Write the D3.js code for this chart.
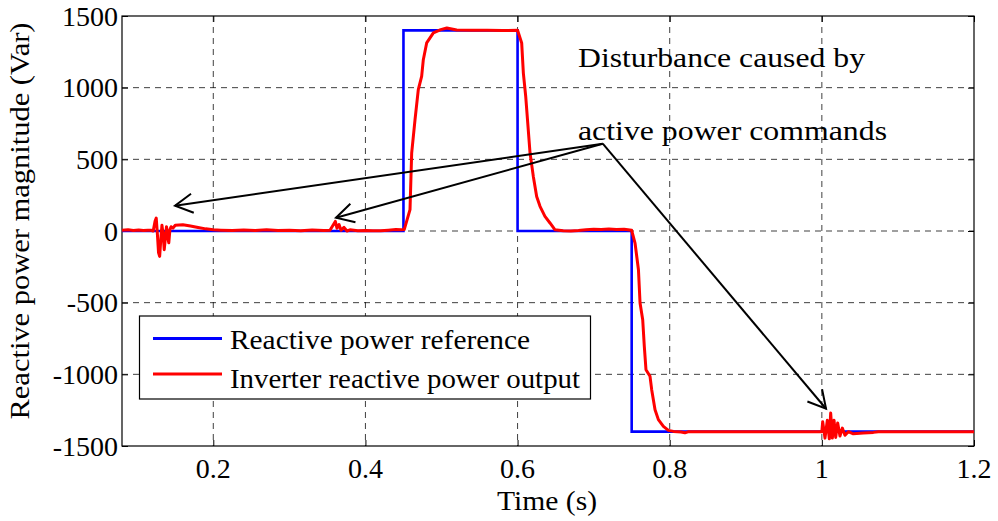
<!DOCTYPE html>
<html><head><meta charset="utf-8">
<script src="https://cdn.jsdelivr.net/npm/d3@7"></script>
</head><body style="margin:0;background:#fff">
<svg id="c" width="998" height="521" style="display:block;font-family:'Liberation Serif'"></svg>
<script>
// ---- data ----
const xTicks = [0.2, 0.4, 0.6, 0.8, 1, 1.2];
const yTicks = [-1500, -1000, -500, 0, 500, 1000, 1500];
const refTime  = [0.08, 0.45, 0.45, 0.6, 0.6, 0.75, 0.75, 1.2];
const refValue = [0, 0, 1400, 1400, 0, 0, -1400, -1400];
const outTime = [
  0.08,0.088,0.095,0.102,0.108,0.114,0.118,0.121,0.1235,0.125,0.1265,0.128,0.1295,0.131,0.1325,0.134,0.1355,0.137,0.1385,0.140,0.1415,0.143,0.1445,0.147,0.150,0.155,0.160,0.170,0.180,0.190,0.200,
  0.21,0.225,0.24,0.255,0.27,0.285,0.30,0.315,0.33,0.345,0.3534,0.3574,0.3604,0.3626,0.3653,0.3679,0.3718,0.3758,0.3797,0.39,0.40,0.41,0.42,0.43,0.44,0.447,0.451,
  0.4586,0.4608,0.4652,0.4695,0.4739,0.4761,0.4805,0.4849,0.4893,0.499,0.507,0.52,0.54,0.56,0.58,0.60,
  0.6054,0.6076,0.6107,0.6164,0.6207,0.6251,0.6295,0.636,0.6426,0.649,0.66,0.67,0.68,0.69,0.70,0.71,0.72,0.73,0.74,0.75,
  0.7544,0.7589,0.761,0.7645,0.7666,0.7688,0.7741,0.7763,0.7807,0.7851,0.7917,0.7983,0.805,0.815,0.82,0.825,0.85,0.9,0.95,
  1.0,1.0011,1.0041,1.0072,1.0098,1.0116,1.0138,1.016,1.0182,1.0208,1.0238,1.0269,1.0304,1.0348,1.0413,1.0545,1.0677,1.0742,1.1,1.2];
const outValue = [
  5,8,3,7,4,6,5,0,70,90,-20,-150,-177,-60,40,-20,-130,-50,30,-40,-82,10,30,20,40,42,44,35,25,15,8,
  6,3,7,4,8,3,6,2,7,4,5,40,67,20,45,5,25,0,8,2,3,1,2,6,10,8,10,
  149,544,777,986,1079,1195,1312,1347,1382,1405,1416,1403,1400,1401,1399,1400,
  1312,1102,939,544,381,241,172,102,56,9,2,0,3,8,12,10,14,10,12,5,
  -84,-270,-502,-619,-805,-968,-1014,-1107,-1247,-1316,-1363,-1391,-1398,-1402,-1408,-1400,-1400,-1400,-1400,
  -1400,-1330,-1445,-1320,-1450,-1270,-1445,-1320,-1440,-1340,-1430,-1375,-1425,-1400,-1415,-1410,-1405,-1400,-1400,-1400];
const seriesNames = ["Reactive power reference", "Inverter reactive power output"];
const seriesColors = ["#0000ff", "#ff0000"];
const noteLines = ["Disturbance caused by", "active power commands"];
const noteApex = [0.712, 609];
const noteTargets = [[0.1497, 176], [0.3613, 93], [1.0055, -1240]];

// ---- layout ----
const svg = d3.select("#c");
const L = 122, R = 974, T = 16, B = 446;
const x = d3.scaleLinear().domain([0.08, 1.2]).range([L, R]);
const y = d3.scaleLinear().domain([-1500, 1500]).range([B, T]);

function label(parent, s, px, py, len, anchor) {
  return parent.append("text").attr("x", px).attr("y", py)
    .style("font-family", "Liberation Serif").style("font-size", "28px").attr("fill", "#000")
    .attr("text-anchor", anchor || "start")
    .attr("textLength", len).attr("lengthAdjust", "spacingAndGlyphs").text(s);
}

// grid
svg.append("g").selectAll("line").data(xTicks.filter(d => d < 1.2)).enter().append("line")
  .attr("x1", d => x(d)).attr("x2", d => x(d)).attr("y1", T).attr("y2", B)
  .attr("stroke", "#000").attr("stroke-width", 1).attr("stroke-dasharray", "6,5").attr("opacity", 0.75);
svg.append("g").selectAll("line").data(yTicks.filter(d => d > -1500 && d < 1500)).enter().append("line")
  .attr("x1", L).attr("x2", R).attr("y1", d => y(d)).attr("y2", d => y(d))
  .attr("stroke", "#000").attr("stroke-width", 1).attr("stroke-dasharray", "6,5").attr("opacity", 0.75);

// axes: ticks via d3 axes (inside, MATLAB style), labels drawn as own text
svg.append("g").attr("transform", `translate(0,${B})`).call(d3.axisBottom(x).tickValues(xTicks).tickFormat("").tickSizeInner(-6).tickSizeOuter(0));
svg.append("g").attr("transform", `translate(${L},0)`).call(d3.axisLeft(y).tickValues(yTicks).tickFormat("").tickSizeInner(-6).tickSizeOuter(0));
svg.append("g").attr("transform", `translate(0,${T})`).call(d3.axisTop(x).tickValues(xTicks).tickFormat("").tickSizeInner(-6).tickSizeOuter(0));
svg.append("g").attr("transform", `translate(${R},0)`).call(d3.axisRight(y).tickValues(yTicks).tickFormat("").tickSizeInner(-6).tickSizeOuter(0));
svg.selectAll(".domain").remove();
svg.selectAll(".tick text").remove();
svg.selectAll(".tick line").attr("stroke", "#000");

const xl = svg.append("g");
xTicks.forEach(d => xl.append("text").attr("x", x(d)).attr("y", 478)
  .style("font-family", "Liberation Serif").style("font-size", "28px").attr("text-anchor", "middle").text(String(d)));
const yl = svg.append("g");
yTicks.forEach(d => yl.append("text").attr("x", 118).attr("y", y(d) + 9.5)
  .style("font-family", "Liberation Serif").style("font-size", "28px").attr("text-anchor", "end").text(String(d)));

svg.append("rect").attr("x", L).attr("y", T).attr("width", R - L).attr("height", B - T)
  .attr("fill", "none").attr("stroke", "#000").attr("stroke-width", 1.2);

// series
const line = d3.line().x(d => x(d[0])).y(d => y(d[1]));
const refData = refTime.map((t, i) => [t, refValue[i]]);
const outData = outTime.map((t, i) => [t, outValue[i]]);
svg.append("clipPath").attr("id", "cp").append("rect").attr("x", L).attr("y", T).attr("width", R - L).attr("height", B - T);
svg.append("path").datum(refData).attr("d", line).attr("fill", "none").attr("stroke", seriesColors[0]).attr("stroke-width", 2.6).attr("clip-path", "url(#cp)");
svg.append("path").datum(outData).attr("d", line).attr("fill", "none").attr("stroke", seriesColors[1]).attr("stroke-width", 3).attr("stroke-linejoin", "round").attr("clip-path", "url(#cp)");

// annotation
const ap = [x(noteApex[0]), y(noteApex[1])];
noteTargets.forEach(tg => {
  const tp = [x(tg[0]), y(tg[1])];
  svg.append("line").attr("x1", ap[0]).attr("y1", ap[1]).attr("x2", tp[0]).attr("y2", tp[1]).attr("stroke", "#000").attr("stroke-width", 2);
  const ang = Math.atan2(ap[1] - tp[1], ap[0] - tp[0]);
  const len = 20, half = 0.5;
  const b1 = [tp[0] + len * Math.cos(ang + half), tp[1] + len * Math.sin(ang + half)];
  const b2 = [tp[0] + len * Math.cos(ang - half), tp[1] + len * Math.sin(ang - half)];
  svg.append("path").attr("d", `M${b1[0]},${b1[1]}L${tp[0]},${tp[1]}L${b2[0]},${b2[1]}`)
    .attr("fill", "none").attr("stroke", "#000").attr("stroke-width", 2);
});
label(svg, noteLines[0], 578, 67, 287);
label(svg, noteLines[1], 578, 140, 309);

// legend
const lg = svg.append("g");
lg.append("rect").attr("x", 139.5).attr("y", 316).attr("width", 451).attr("height", 83)
  .attr("fill", "#fff").attr("stroke", "#000").attr("stroke-width", 1.2);
const legY = [338.5, 374], legBase = [348.5, 387.5], legLen = [300, 350];
seriesNames.forEach((n, i) => {
  lg.append("line").attr("x1", 153).attr("x2", 222).attr("y1", legY[i]).attr("y2", legY[i]).attr("stroke", seriesColors[i]).attr("stroke-width", 3);
  label(lg, n, 230, legBase[i], legLen[i]);
});

// axis labels
label(svg, "Time (s)", 547, 510, 100, "middle");
label(svg, "Reactive power magnitude (Var)", 0, 0, 397, "middle").attr("transform", "translate(29,221) rotate(-90)");
</script></body></html>
